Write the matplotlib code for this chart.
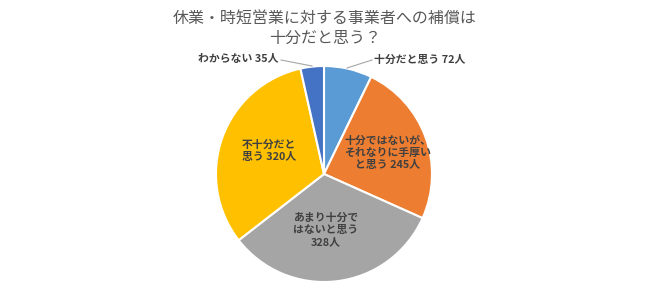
import matplotlib.pyplot as plt

plt.rcParams['font.family'] = ['Noto Sans CJK JP', 'DejaVu Sans']

# data
categories = ['十分だと思う', '十分ではないが、それなりに手厚いと思う', 'あまり十分ではないと思う',
              '不十分だと思う', 'わからない']
counts = [72, 245, 328, 320, 35]
colors = ['#5B9BD5', '#ED7D31', '#A5A5A5', '#FFC000', '#4472C4']
label_texts = ['十分だと思う 72人', '十分ではないが、\nそれなりに手厚い\nと思う 245人',
               'あまり十分で\nはないと思う\n328人', '不十分だと\n思う 320人', 'わからない 35人']

fig = plt.figure(figsize=(6.5, 3.02), dpi=100)
ax = fig.add_axes([0, 0, 1, 1])

cx, cy, r = 324, 128, 108
wedges, _ = ax.pie(counts, colors=colors, startangle=90, counterclock=False,
                   center=(cx, cy), radius=r, frame=True,
                   wedgeprops={'edgecolor': 'white', 'linewidth': 1.5})
ax.set_xlim(0, 650)
ax.set_ylim(0, 302)
ax.set_aspect('equal')
ax.axis('off')

txt = '#404040'
# labels inside
ax.text(388, 149, label_texts[1], ha='center', va='center', fontsize=7.8,
        fontweight='bold', color=txt, linespacing=1.25)
ax.text(326, 72, label_texts[2], ha='center', va='center', fontsize=7.8,
        fontweight='bold', color=txt, linespacing=1.25)
ax.text(269, 151, label_texts[3], ha='center', va='center', fontsize=7.8,
        fontweight='bold', color=txt, linespacing=1.25)

# outside labels with leader lines
ax.text(374, 242, label_texts[0], ha='left', va='center', fontsize=7.8,
        fontweight='bold', color=txt)
ax.plot([347, 372], [234, 242], color='#A6A6A6', lw=0.8)
ax.text(278, 243, label_texts[4], ha='right', va='center', fontsize=7.8,
        fontweight='bold', color=txt)
ax.plot([281, 312], [242, 236], color='#A6A6A6', lw=0.8)

fig.text(0.5, 1 - 19 / 302, '休業・時短営業に対する事業者への補償は', ha='center', va='center',
         fontsize=11.5, color='#595959')
fig.text(0.5, 1 - 38 / 302, '十分だと思う？', ha='center', va='center',
         fontsize=11.5, color='#595959')

fig.savefig('out.png', dpi=100)
